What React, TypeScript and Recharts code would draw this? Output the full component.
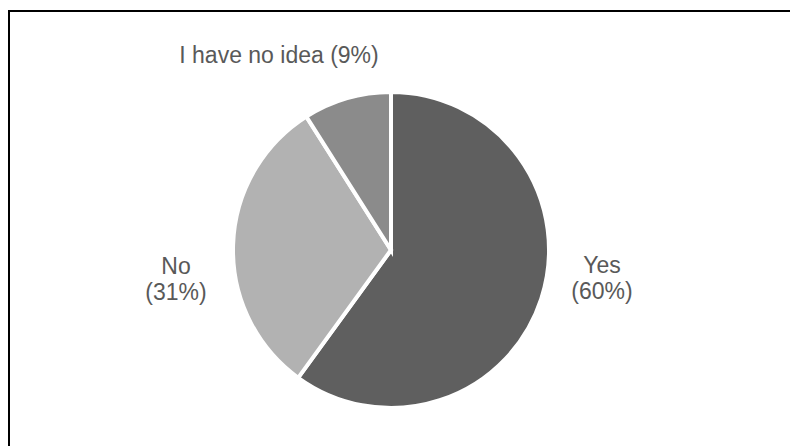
import { PieChart, Pie, Cell } from 'recharts';

const categories = ['Yes', 'No', 'I have no idea'];
const shares = [60, 31, 9];
const sliceColors = ['#5f5f5f', '#b2b2b2', '#8b8b8b'];

// label placement relative to the pie centre (Excel "best fit" look)
const labelOffsets = [
  { dx: 211, dy: 23, split: true },
  { dx: -215, dy: 24, split: true },
  { dx: -112, dy: -187, split: false },
];

const chartData = categories.map((name, i) => ({ name, value: shares[i] }));

const TEXT = '#595959';
const FONT = '"Liberation Sans", Arial, sans-serif';

function renderLabel(props: any) {
  const { cx, cy, index, name, value } = props;
  const o = labelOffsets[index];
  const x = cx + o.dx;
  const y = cy + o.dy;
  if (!o.split) {
    return (
      <text x={x} y={y} textAnchor="middle" fill={TEXT} fontSize={23} fontFamily={FONT}>
        {`${name} (${value}%)`}
      </text>
    );
  }
  return (
    <text x={x} y={y} textAnchor="middle" fill={TEXT} fontSize={23} fontFamily={FONT}>
      <tspan x={x} y={y}>{name}</tspan>
      <tspan x={x} y={y + 26}>{`(${value}%)`}</tspan>
    </text>
  );
}

export default function App() {
  return (
    <div style={{ position: 'fixed', left: 0, top: 0, width: 790, height: 446, background: '#fff' }}>
      <div
        style={{
          position: 'absolute',
          left: 8,
          top: 10,
          right: -10,
          bottom: -10,
          borderTop: '2px solid #000',
          borderLeft: '2px solid #000',
        }}
      />
      <PieChart width={790} height={446} style={{ position: 'absolute', left: 0, top: 0 }}>
        <Pie
          data={chartData}
          dataKey="value"
          nameKey="name"
          cx={386}
          cy={245}
          outerRadius={158}
          startAngle={90}
          endAngle={-270}
          stroke="#fff"
          strokeWidth={4}
          label={renderLabel}
          labelLine={false}
          isAnimationActive={false}
        >
          {chartData.map((d, i) => (
            <Cell key={d.name} fill={sliceColors[i]} />
          ))}
        </Pie>
      </PieChart>
    </div>
  );
}
